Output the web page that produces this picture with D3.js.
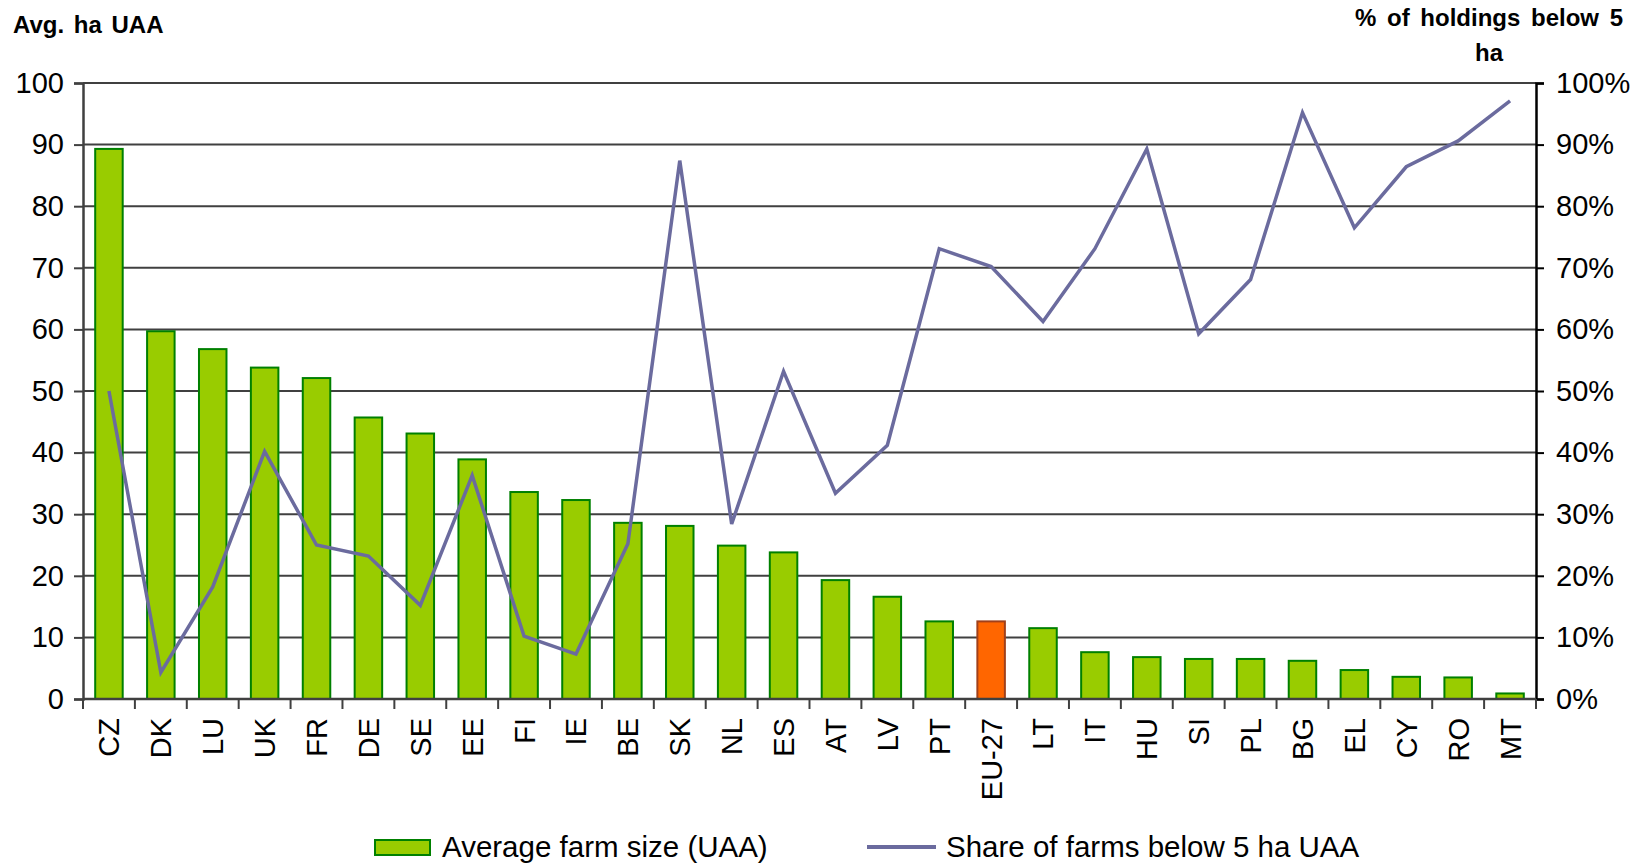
<!DOCTYPE html>
<html lang="en">
<head>
    <meta charset="UTF-8">
    <title>Average farm size and share of small holdings</title>
    <script src="https://d3js.org/d3.v7.min.js"></script>
    <style>
        body { margin: 0; background: #fff; }
        text { font-family: "Liberation Sans", Arial, sans-serif; fill: #000; }
    </style>
</head>
<body>
    <div id="chart-container"></div>

    <script>
        // Countries, ordered by average farm size
        const countries = ["CZ","DK","LU","UK","FR","DE","SE","EE","FI","IE","BE","SK","NL","ES",
            "AT","LV","PT","EU-27","LT","IT","HU","SI","PL","BG","EL","CY","RO","MT"];
        // Average farm size, ha UAA
        const avgSize = [89.3, 59.7, 56.8, 53.8, 52.1, 45.7, 43.1, 38.9, 33.6, 32.3, 28.6, 28.1, 24.9, 23.8,
            19.3, 16.6, 12.6, 12.6, 11.5, 7.6, 6.8, 6.5, 6.5, 6.2, 4.7, 3.6, 3.5, 0.9];
        // Share of holdings below 5 ha UAA (%)
        const shareBelow5 = [50, 4.3, 18.2, 40.2, 25, 23.2, 15.2, 36.3, 10.2, 7.3, 25.2, 87.4, 28.4, 53.2,
            33.4, 41.2, 73.1, 70.2, 61.3, 73.1, 89.3, 59.3, 68.1, 95.2, 76.5, 86.4, 90.6, 97.1];
        const leftTicks = [0, 10, 20, 30, 40, 50, 60, 70, 80, 90, 100];
        const rightTicks = [0, 10, 20, 30, 40, 50, 60, 70, 80, 90, 100];

        const data = countries.map((c, i) => ({ country: c, size: avgSize[i], share: shareBelow5[i] }));

        const W = 1646, H = 865;
        const margin = { top: 83, right: 110, bottom: 166, left: 83 };
        const width = W - margin.left - margin.right;
        const height = H - margin.top - margin.bottom;

        const svg = d3.select("#chart-container")
            .append("svg")
            .attr("width", W)
            .attr("height", H);

        const g = svg.append("g")
            .attr("transform", `translate(${margin.left}, ${margin.top})`);

        const x = d3.scaleBand()
            .domain(countries)
            .range([0, width])
            .paddingInner(0.47)
            .paddingOuter(0.235);

        const xc = d3.scaleBand().domain(countries).range([0, width]);

        const yL = d3.scaleLinear().domain([0, 100]).range([height, 0]);
        const yR = d3.scaleLinear().domain([0, 100]).range([height, 0]);

        // gridlines
        g.append("g")
            .selectAll("line")
            .data(leftTicks.slice(1))
            .enter().append("line")
            .attr("x1", 0)
            .attr("x2", width)
            .attr("y1", d => yL(d))
            .attr("y2", d => yL(d))
            .attr("stroke", "#404040")
            .attr("stroke-width", 2);

        // bars
        g.append("g")
            .selectAll("rect")
            .data(data)
            .enter().append("rect")
            .attr("x", d => x(d.country))
            .attr("y", d => yL(d.size))
            .attr("width", x.bandwidth())
            .attr("height", d => yL(0) - yL(d.size))
            .attr("fill", d => d.country === "EU-27" ? "#FF6600" : "#99CC00")
            .attr("stroke", d => d.country === "EU-27" ? "#A0401A" : "#008000")
            .attr("stroke-width", 2);

        // left axis
        const leftAxis = g.append("g")
            .call(d3.axisLeft(yL).tickValues(leftTicks).tickSize(9).tickPadding(10));
        leftAxis.select(".domain").attr("stroke", "#404040").attr("stroke-width", 2.5);
        leftAxis.selectAll(".tick line").attr("stroke", "#404040").attr("stroke-width", 2);
        leftAxis.selectAll(".tick text").style("font-size", "29px").attr("fill", "#000");

        // right axis
        const rightAxis = g.append("g")
            .attr("transform", `translate(${width}, 0)`)
            .call(d3.axisRight(yR).tickValues(rightTicks).tickSize(8).tickPadding(12)
                .tickFormat(d => d + "%"));
        rightAxis.select(".domain").attr("stroke", "#000").attr("stroke-width", 2.5);
        rightAxis.selectAll(".tick line").attr("stroke", "#000").attr("stroke-width", 2);
        rightAxis.selectAll(".tick text").style("font-size", "29px").attr("fill", "#000");

        // x axis: ticks between categories
        const xAxisG = g.append("g").attr("transform", `translate(0, ${height})`);
        xAxisG.append("line")
            .attr("x1", 0).attr("x2", width)
            .attr("stroke", "#404040").attr("stroke-width", 2.5);
        xAxisG.selectAll(".cat-tick")
            .data(countries.concat(["_end"]))
            .enter().append("line")
            .attr("class", "cat-tick")
            .attr("x1", (d, i) => i * xc.bandwidth())
            .attr("x2", (d, i) => i * xc.bandwidth())
            .attr("y1", 0).attr("y2", 10)
            .attr("stroke", "#404040").attr("stroke-width", 2);
        xAxisG.selectAll(".cat-label")
            .data(countries)
            .enter().append("text")
            .attr("class", "cat-label")
            .attr("transform", d => `translate(${xc(d) + xc.bandwidth() / 2}, 19) rotate(-90)`)
            .attr("dy", "0.36em")
            .style("text-anchor", "end")
            .style("font-size", "29px")
            .text(d => d);

        // line series
        const line = d3.line()
            .x(d => xc(d.country) + xc.bandwidth() / 2)
            .y(d => yR(d.share));
        g.append("path")
            .datum(data)
            .attr("d", line)
            .attr("fill", "none")
            .attr("stroke", "#6B6B9E")
            .attr("stroke-width", 3.5)
            .attr("stroke-linejoin", "miter");

        // axis titles
        svg.append("text")
            .attr("x", 13)
            .attr("y", 33)
            .style("font-size", "24px")
            .style("font-weight", "bold")
            .style("word-spacing", "3px")
            .text("Avg. ha UAA");

        const rt = svg.append("text")
            .attr("x", 1489)
            .style("font-size", "24px")
            .style("font-weight", "bold")
            .style("text-anchor", "middle")
            .style("word-spacing", "4px");
        rt.append("tspan").attr("x", 1489).attr("y", 26).text("% of holdings below 5");
        rt.append("tspan").attr("x", 1489).attr("y", 61).text("ha");

        // legend
        const legend = svg.append("g");
        legend.append("rect")
            .attr("x", 375).attr("y", 840)
            .attr("width", 55).attr("height", 15)
            .attr("fill", "#99CC00")
            .attr("stroke", "#008000")
            .attr("stroke-width", 2);
        legend.append("text")
            .attr("x", 442).attr("y", 857)
            .style("font-size", "29.5px")
            .text("Average farm size (UAA)");
        legend.append("line")
            .attr("x1", 867).attr("x2", 936)
            .attr("y1", 847).attr("y2", 847)
            .attr("stroke", "#6B6B9E")
            .attr("stroke-width", 4);
        legend.append("text")
            .attr("x", 946).attr("y", 857)
            .style("font-size", "29.5px")
            .text("Share of farms below 5 ha UAA");
    </script>
</body>
</html>
